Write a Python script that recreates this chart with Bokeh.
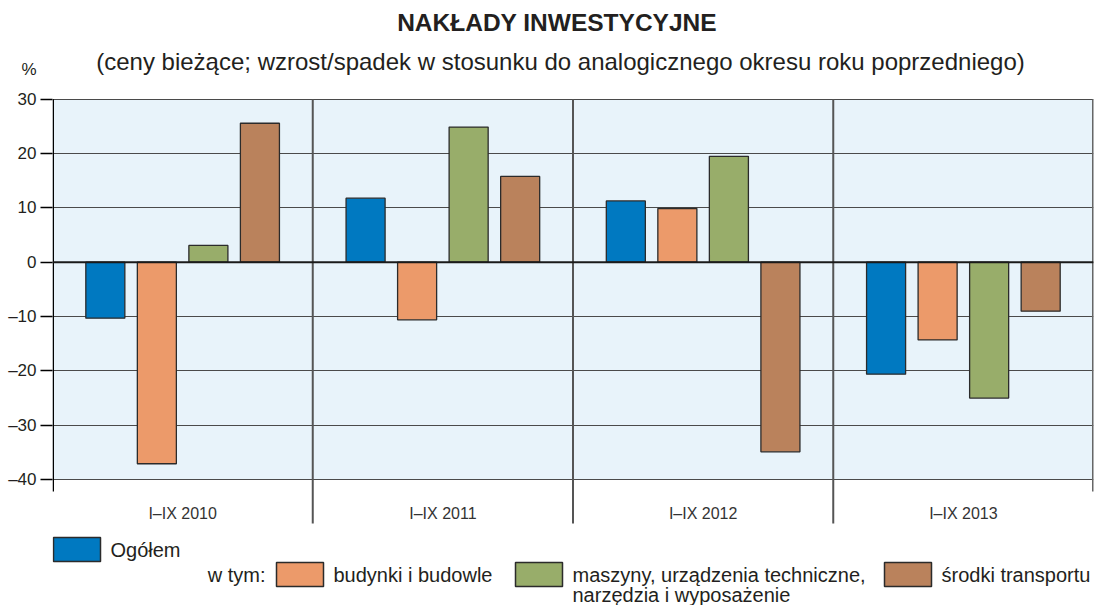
from bokeh.plotting import figure
from bokeh.models import FactorRange, Range1d, FixedTicker, BoxAnnotation, Span, ColumnDataSource
from bokeh.transform import dodge
from bokeh.core.properties import value
from bokeh.embed import file_html
from bokeh.resources import INLINE

# ---------------- data ----------------
categories = ["I–IX 2010", "I–IX 2011", "I–IX 2012", "I–IX 2013"]
ogolem = [-10.3, 11.8, 11.3, -20.6]
budynki = [-37.1, -10.6, 9.9, -14.3]
maszyny = [3.1, 24.9, 19.5, -25.0]
srodki = [25.6, 15.8, -34.9, -9.0]

series_keys = ["ogolem", "budynki", "maszyny", "srodki"]
series_labels = ["Ogółem", "budynki i budowle",
                 "maszyny, urządzenia techniczne,\nnarzędzia i wyposażenie",
                 "środki transportu"]
colors = ["#0079C1", "#EC9A6A", "#98AD6A", "#BA825C"]

y_ticks = [-40, -30, -20, -10, 0, 10, 20, 30]
y_tick_labels = {t: (("–" + str(-t)) if t < 0 else str(t)) for t in y_ticks}

title_text = "NAKŁADY  INWESTYCYJNE"
subtitle_text = "(ceny bieżące; wzrost/spadek w stosunku do analogicznego okresu roku poprzedniego)"
unit_text = "%"
legend_prefix = "w tym:"

# ---------------- layout constants ----------------
FONT_NAME = "Liberation Sans"
FONT = value(FONT_NAME)
TXT = "#231F20"
FIG_W, FIG_H = 1094, 605
BORDER_L, BORDER_R = 52, 1
Y_MAX, Y_MIN = 48.2, -63.2
X_PX = (FIG_W - BORDER_L - BORDER_R) / len(categories)
Y_PX = FIG_H / (Y_MAX - Y_MIN)


def sx(px):
    """page pixel column -> x coordinate of the chart"""
    return (px - BORDER_L) / X_PX


def sy(py):
    """page pixel row -> y coordinate of the chart"""
    return Y_MAX - py / Y_PX


source = ColumnDataSource(dict(cat=categories, ogolem=ogolem, budynki=budynki,
                               maszyny=maszyny, srodki=srodki))

p = figure(width=FIG_W, height=FIG_H,
           x_range=FactorRange(factors=categories, range_padding=0),
           y_range=Range1d(Y_MIN, Y_MAX), toolbar_location=None, output_backend="svg",
           x_axis_location=None, title=None,
           min_border_left=BORDER_L, min_border_right=BORDER_R,
           min_border_top=0, min_border_bottom=0)
p.outline_line_color = None
p.background_fill_color = "white"
p.xgrid.visible = False

# plot-area background
p.add_layout(BoxAnnotation(bottom=-40, top=30, fill_color="#E8F3FA", fill_alpha=1,
                           line_color=None, level="image"))

# y axis (the unit sign "%" is written as an extra, tick-less label above the scale)
axis_low = sy(491)
unit_tick = 35.5
labels = dict(y_tick_labels)
labels[unit_tick] = unit_text
p.yaxis.ticker = FixedTicker(ticks=y_ticks + [unit_tick], minor_ticks=y_ticks)
p.yaxis.major_label_overrides = labels
p.yaxis.bounds = (axis_low, unit_tick)
p.yaxis.axis_line_color = None
p.yaxis.major_tick_line_color = None
p.yaxis.minor_tick_line_color = "black"
p.yaxis.minor_tick_line_width = 1.5
p.yaxis.minor_tick_out = 12
p.yaxis.minor_tick_in = 0
p.yaxis.major_tick_out = 12
p.yaxis.major_tick_in = 0
p.yaxis.major_label_standoff = 4
p.yaxis.major_label_text_font = FONT_NAME
p.yaxis.major_label_text_font_size = "17px"
p.yaxis.major_label_text_color = TXT

# axis line drawn along the left frame edge
p.segment(x0=[sx(BORDER_L + 0.75)], y0=[axis_low], x1=[sx(BORDER_L + 0.75)], y1=[30],
          line_color="black", line_width=1.5)

p.ygrid.ticker = FixedTicker(ticks=y_ticks)
p.ygrid.grid_line_color = "#4a4a4a"
p.ygrid.grid_line_width = 1

# category separators (extend below the plot area like ticks)
n = len(categories)
bounds_x = list(range(1, n))
sep_low = sy(523)
p.segment(x0=bounds_x, y0=[sep_low] * len(bounds_x), x1=bounds_x, y1=[30] * len(bounds_x),
          line_color="#555555", line_width=2)
p.segment(x0=[n], y0=[axis_low], x1=[n], y1=[30], line_color="#666666", line_width=3)

# bars
offsets = [-0.297, -0.099, 0.099, 0.297]
for key, off, col in zip(series_keys, offsets, colors):
    p.vbar(x=dodge("cat", off, range=p.x_range), top=key, bottom=0, width=0.15,
           source=source, fill_color=col, line_color="#2b2b2b", line_width=1.3)

p.add_layout(Span(location=0, dimension="width", line_color="#1a1a1a", line_width=2))

# category labels
p.text(x="cat", y=sy(513), text="cat", source=source, text_font=FONT, text_font_size="16px",
       text_align="center", text_baseline="middle", text_color="#333333")

# titles
p.text(x=[sx(560)], y=[sy(21.5)], text=[title_text], text_font=FONT, text_font_size="24.5px",
       text_font_style="bold", text_align="center", text_baseline="middle", text_color=TXT)
p.text(x=[sx(560)], y=[sy(61)], text=[subtitle_text], text_font=FONT, text_font_size="24px",
       text_align="center", text_baseline="middle", text_color=TXT)

# legend
box_left_px = [53, 276, 515, 884]
box_w_px = 47
box_top_px = [537, 562, 562, 562]
box_h_px = 24
p.quad(left=[sx(b) for b in box_left_px], right=[sx(b + box_w_px) for b in box_left_px],
       top=[sy(t) for t in box_top_px], bottom=[sy(t + box_h_px) for t in box_top_px],
       fill_color=colors, line_color="#2b2b2b", line_width=1.5)

text_x = [sx(b + box_w_px + 10) for b in box_left_px]
mids = [sy(549.5), sy(574.5), sy(574.5), sy(574.5)]
first_lines = [s.split("\n")[0] for s in series_labels]
p.text(x=text_x, y=mids, text=first_lines, text_font=FONT, text_font_size="20px",
       text_align="left", text_baseline="middle", text_color=TXT)
second = series_labels[2].split("\n")[1]
p.text(x=[text_x[2]], y=[sy(594.5)], text=[second], text_font=FONT, text_font_size="20px",
       text_align="left", text_baseline="middle", text_color=TXT)
p.text(x=[sx(265)], y=[sy(574.5)], text=[legend_prefix], text_font=FONT, text_font_size="20px",
       text_align="right", text_baseline="middle", text_color=TXT)

open("out.html", "w").write(file_html(p, INLINE))
